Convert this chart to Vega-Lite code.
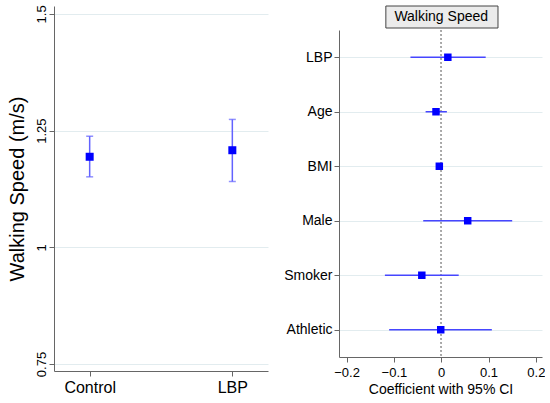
{
  "$schema": "https://vega.github.io/schema/vega-lite/v6.json",
  "padding": {"top": 4, "left": 6, "right": 0, "bottom": 0},
  "background": "white",
  "config": {
    "view": {"stroke": null},
    "font": "Liberation Sans",
    "axis": {
      "domainColor": "#666666",
      "tickColor": "#666666",
      "gridColor": "#e2ecef",
      "labelColor": "black",
      "titleColor": "black",
      "titleFontWeight": "normal",
      "tickSize": 5
    }
  },
  "datasets": {
    "groups": [
      {"group": "Control", "mean": 1.194, "lo": 1.151, "hi": 1.238},
      {"group": "LBP", "mean": 1.208, "lo": 1.141, "hi": 1.274}
    ],
    "coefs": [
      {"var": "LBP", "coef": 0.014, "lo": -0.065, "hi": 0.094},
      {"var": "Age", "coef": -0.011, "lo": -0.033, "hi": 0.012},
      {"var": "BMI", "coef": -0.004, "lo": -0.007, "hi": -0.001},
      {"var": "Male", "coef": 0.056, "lo": -0.038, "hi": 0.15},
      {"var": "Smoker", "coef": -0.041, "lo": -0.119, "hi": 0.037},
      {"var": "Athletic", "coef": -0.001, "lo": -0.11, "hi": 0.107}
    ],
    "header": [
      {"label": "Walking Speed", "x1": -0.117, "x2": 0.12, "mid": 0}
    ]
  },
  "spacing": 15,
  "hconcat": [
    {
      "width": 214,
      "height": 365,
      "data": {"name": "groups"},
      "encoding": {
        "x": {
          "field": "group",
          "type": "nominal",
          "sort": null,
          "scale": {"type": "point", "padding": 0.25},
          "axis": {"title": null, "labelAngle": 0, "labelFontSize": 16, "labelPadding": 3, "grid": false}
        }
      },
      "layer": [
        {
          "mark": {"type": "rule", "color": "#6262ff", "strokeWidth": 1.5},
          "encoding": {
            "y": {
              "field": "lo",
              "type": "quantitative",
              "scale": {"domain": [0.735, 1.517], "zero": false, "nice": false},
              "axis": {
                "title": "Walking Speed (m/s)",
                "titleFontSize": 20,
                "titlePadding": 8,
                "values": [0.75, 1, 1.25, 1.5],
                "labelExpr": "'' + datum.value",
                "labelFontSize": 13,
                "labelAngle": -90,
                "labelAlign": "center",
                "labelBaseline": "bottom",
                "labelPadding": 1,
                "grid": true
              }
            },
            "y2": {"field": "hi"}
          }
        },
        {
          "mark": {"type": "tick", "color": "#6262ff", "size": 7, "thickness": 1.5, "orient": "horizontal"},
          "encoding": {"y": {"field": "lo", "type": "quantitative"}}
        },
        {
          "mark": {"type": "tick", "color": "#6262ff", "size": 7, "thickness": 1.5, "orient": "horizontal"},
          "encoding": {"y": {"field": "hi", "type": "quantitative"}}
        },
        {
          "mark": {"type": "square", "color": "#0000ff", "size": 64, "opacity": 1, "filled": true},
          "encoding": {"y": {"field": "mean", "type": "quantitative"}}
        }
      ]
    },
    {
      "spacing": 0,
      "vconcat": [
        {
          "width": 203,
          "height": 22,
          "data": {"name": "header"},
          "layer": [
            {
              "mark": {"type": "rect", "fill": "#ebebeb", "stroke": "#444444", "strokeWidth": 1},
              "encoding": {
                "x": {
                  "field": "x1",
                  "type": "quantitative",
                  "scale": {"domain": [-0.216, 0.213], "nice": false, "zero": false},
                  "axis": null
                },
                "x2": {"field": "x2"}
              }
            },
            {
              "mark": {"type": "text", "fontSize": 14, "color": "black"},
              "encoding": {
                "x": {"field": "mid", "type": "quantitative"},
                "text": {"field": "label"}
              }
            }
          ]
        },
        {
          "width": 203,
          "height": 327,
          "data": {"name": "coefs"},
          "layer": [
            {
              "mark": {"type": "rule", "color": "#a8a8a8", "strokeWidth": 1.5, "strokeDash": [1.5, 2.5]},
              "encoding": {
                "x": {"datum": 0, "type": "quantitative"}
              }
            },
            {
              "mark": {"type": "rule", "color": "#4646ff", "strokeWidth": 1.5},
              "encoding": {
                "y": {
                  "field": "var",
                  "type": "nominal",
                  "sort": null,
                  "scale": {"type": "point", "padding": 0.5},
                  "axis": {"title": null, "labelFontSize": 14, "labelPadding": 2, "grid": true}
                },
                "x": {
                  "field": "lo",
                  "type": "quantitative",
                  "scale": {"domain": [-0.216, 0.213], "nice": false, "zero": false},
                  "axis": {
                    "title": "Coefficient with 95% CI",
                    "titleFontSize": 14,
                    "titlePadding": 3,
                    "values": [-0.2, -0.1, 0, 0.1, 0.2],
                    "format": ".1~f",
                    "labelFontSize": 13,
                    "labelPadding": 4,
                    "grid": false
                  }
                },
                "x2": {"field": "hi"}
              }
            },
            {
              "mark": {"type": "square", "color": "#0000ff", "size": 56, "opacity": 1, "filled": true},
              "encoding": {
                "y": {"field": "var", "type": "nominal", "sort": null},
                "x": {"field": "coef", "type": "quantitative"}
              }
            }
          ]
        }
      ]
    }
  ]
}
